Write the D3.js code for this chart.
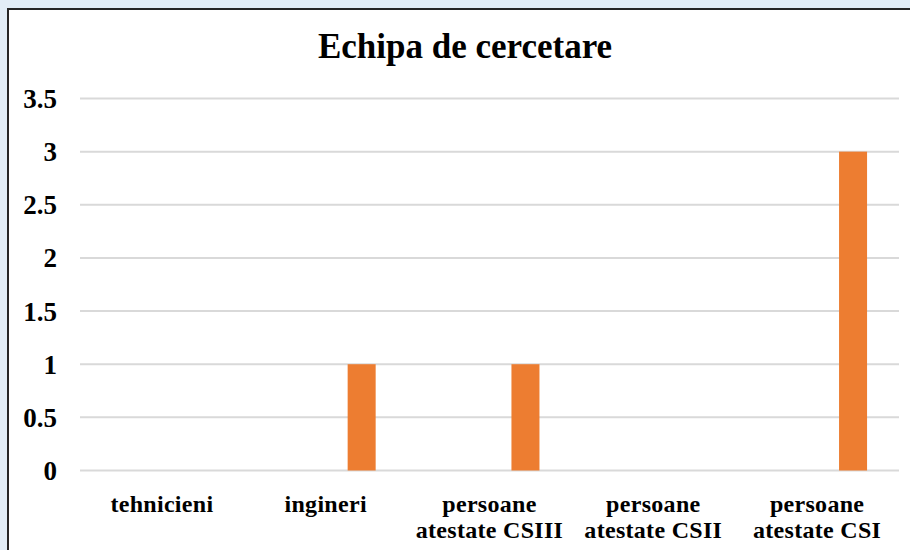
<!DOCTYPE html>
<html>
<head>
<meta charset="utf-8">
<script src="https://cdn.jsdelivr.net/npm/d3@7"></script>
<style>
  html, body { margin: 0; padding: 0; background: #e2edf7; }
  svg { display: block; }
  text { font-family: "Liberation Serif", "Times New Roman", serif; font-weight: bold; fill: #000; }
</style>
</head>
<body>
<div id="chart"></div>
<script>
// date grafic
const categories = ["tehnicieni", "ingineri", "persoane atestate CSIII", "persoane atestate CSII", "persoane atestate CSI"];
const labelLines = [["tehnicieni"], ["ingineri"], ["persoane", "atestate CSIII"], ["persoane", "atestate CSII"], ["persoane", "atestate CSI"]];
const values = [0, 1, 1, 0, 3];
const yTicks = [0, 0.5, 1, 1.5, 2, 2.5, 3, 3.5];
const chartTitle = "Echipa de cercetare";

const width = 910, height = 550;

const svg = d3.select("#chart")
    .append("svg")
    .attr("width", width)
    .attr("height", height);

// fundal albastru deschis
svg.append("rect")
    .attr("width", width)
    .attr("height", height)
    .attr("fill", "#e2edf7");

// cadrul graficului
svg.append("rect")
    .attr("x", 8)
    .attr("y", 9)
    .attr("width", width + 20)
    .attr("height", height + 20)
    .attr("fill", "#fff")
    .attr("stroke", "#262626")
    .attr("stroke-width", 2);

// scale
const x = d3.scaleBand()
    .domain(categories)
    .range([80, 899])
    .padding(0);

const y = d3.scaleLinear()
    .domain([0, 3.5])
    .range([470.5, 98.5]);

// titlu
svg.append("text")
    .attr("x", 465)
    .attr("y", 58)
    .attr("text-anchor", "middle")
    .style("font-size", "35px")
    .text(chartTitle);

// linii de grila
svg.append("g")
    .selectAll("line")
    .data(yTicks)
    .enter()
    .append("line")
    .attr("x1", 80)
    .attr("x2", 899)
    .attr("y1", d => y(d))
    .attr("y2", d => y(d))
    .attr("stroke", "#d9d9d9")
    .attr("stroke-width", 2);

// etichete axa Y
svg.append("g")
    .selectAll("text")
    .data(yTicks)
    .enter()
    .append("text")
    .attr("x", 57)
    .attr("y", d => y(d))
    .attr("dy", "0.35em")
    .attr("text-anchor", "end")
    .style("font-size", "27px")
    .text(d => d);

// bare (seria portocalie, a doua din grup)
const barW = x.bandwidth() * 0.171;
const barOffset = x.bandwidth() * 0.134;

svg.append("g")
    .selectAll("rect")
    .data(values)
    .enter()
    .append("rect")
    .attr("x", (d, i) => x(categories[i]) + x.bandwidth() / 2 + barOffset)
    .attr("y", d => y(d))
    .attr("width", barW)
    .attr("height", d => y(0) - y(d))
    .attr("fill", "#ed7d31");

// etichete axa X
const xLabels = svg.append("g")
    .selectAll("text")
    .data(labelLines)
    .enter()
    .append("text")
    .attr("text-anchor", "middle")
    .style("font-size", "24px")
    .style("letter-spacing", "0.3px");

xLabels.selectAll("tspan")
    .data((d, i) => d.map(line => ({ line, i })))
    .enter()
    .append("tspan")
    .attr("x", d => x(categories[d.i]) + x.bandwidth() / 2)
    .attr("y", (d, j) => 512 + j * 25.5)
    .text(d => d.line);
</script>
</body>
</html>
